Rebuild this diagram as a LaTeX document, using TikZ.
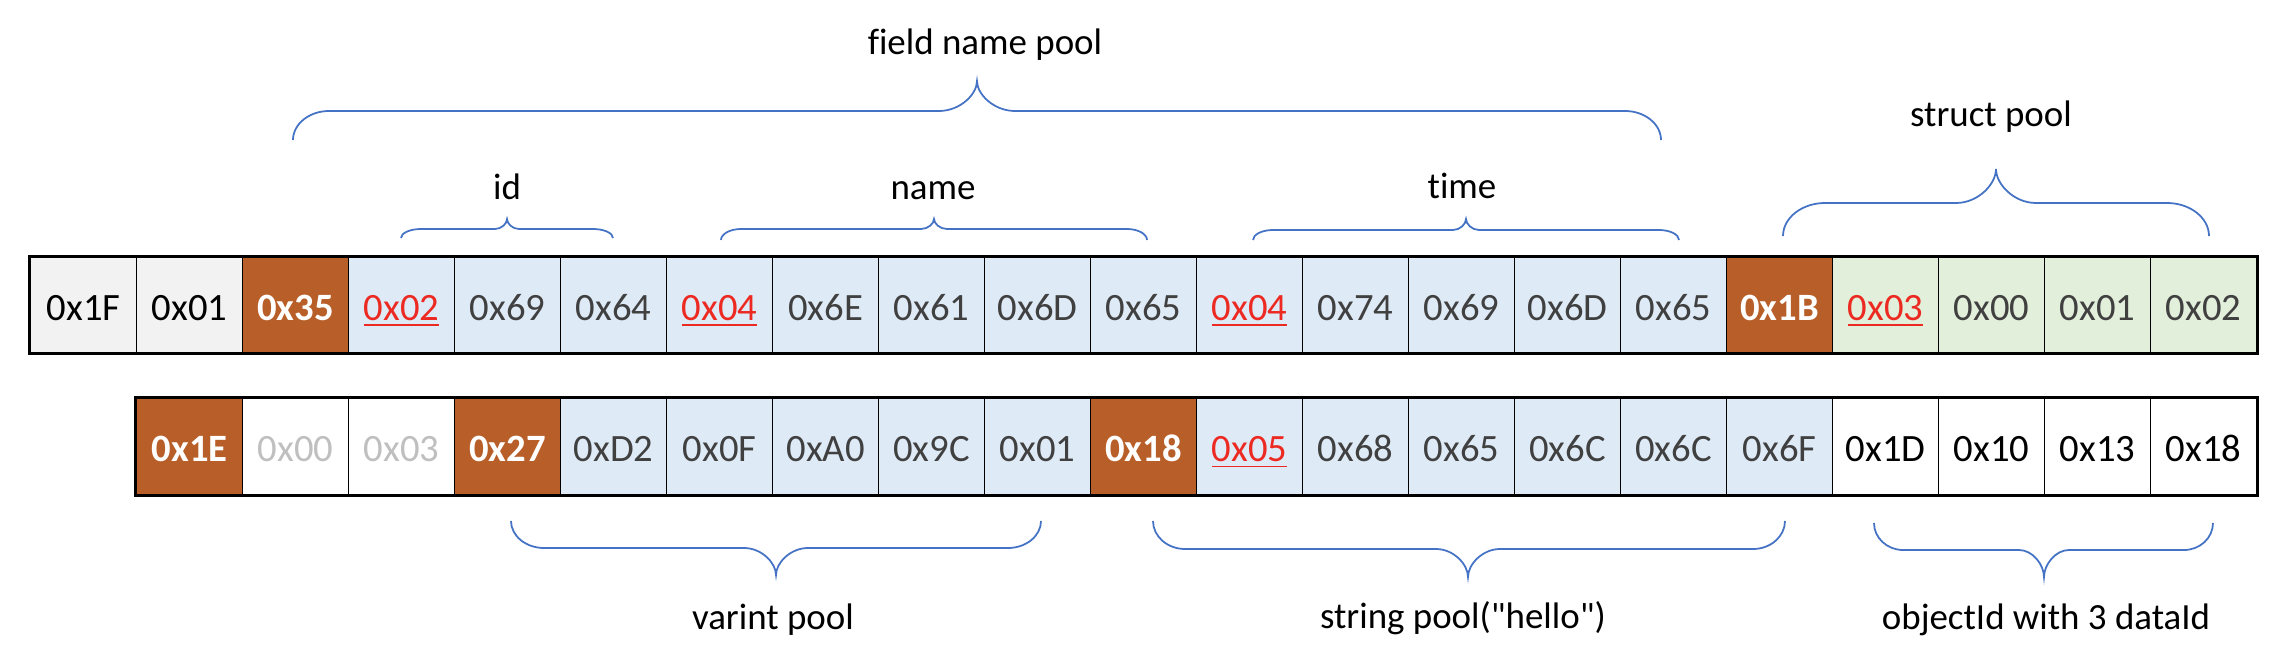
\documentclass[tikz,border=0pt]{standalone}
\usepackage{fontspec}
\setmainfont{Carlito}[Ligatures={TeXOff,NoCommon}]
\definecolor{cGray}{HTML}{F2F2F2}
\definecolor{cOrange}{HTML}{B85E28}
\definecolor{cBlue}{HTML}{DEEAF6}
\definecolor{cGreen}{HTML}{E2EFDA}
\definecolor{cRed}{HTML}{EC2A22}
\definecolor{cDark}{HTML}{404040}
\definecolor{cLight}{HTML}{BFBFBF}
\definecolor{cBrace}{HTML}{4472C4}
\tikzset{
 cell/.style={draw=black, line width=0.45pt, minimum width=1.06cm, minimum height=0.96cm,
   inner sep=0pt, text height=0.30cm, text depth=0cm, font=\fontsize{11}{13}\selectfont},
 gy/.style={cell, fill=cGray, text=black},
 ob/.style={cell, fill=cOrange, text=white, font=\fontsize{11}{13}\selectfont\bfseries},
 bl/.style={cell, fill=cBlue, text=cDark},
 blr/.style={cell, fill=cBlue, text=cRed},
 gr/.style={cell, fill=cGreen, text=cDark},
 grr/.style={cell, fill=cGreen, text=cRed},
 wk/.style={cell, fill=white, text=black},
 wl/.style={cell, fill=white, text=cLight},
 outer/.style={draw=black, line width=0.75pt},
 brace/.style={draw=cBrace, line width=0.5pt},
 lbl/.style={font=\fontsize{10.5}{12}\selectfont, anchor=base, inner sep=0pt, text=black}
}
% x1 x2 xtip yend yline ytip rend rtip
\newcommand\mybrace[8]{%
 \draw[brace] (#1,#4) .. controls (#1,{#4+0.55*(#5-#4)}) and ({#1+0.45*#7},#5) .. ({#1+#7},#5)
   -- ({#3-#8},#5) .. controls ({#3-0.45*#8},#5) and (#3,{#5+0.55*(#6-#5)}) .. (#3,#6)
   .. controls (#3,{#5+0.55*(#6-#5)}) and ({#3+0.45*#8},#5) .. ({#3+#8},#5)
   -- ({#2-#7},#5) .. controls ({#2-0.45*#7},#5) and (#2,{#4+0.55*(#5-#4)}) .. (#2,#4);}
\begin{document}
\begin{tikzpicture}[x=0.01cm,y=-0.01cm]
\useasboundingbox (0,0) rectangle (2284,664);
% row 1
\foreach \s/\t [count=\i from 0] in {gy/0x1F, gy/0x01, ob/0x35, blr/\underline{0x02}, bl/0x69, bl/0x64,
  blr/\underline{0x04}, bl/0x6E, bl/0x61, bl/0x6D, bl/0x65, blr/\underline{0x04}, bl/0x74, bl/0x69, bl/0x6D, bl/0x65,
  ob/0x1B, grr/\underline{0x03}, gr/0x00, gr/0x01, gr/0x02}
  \node[\s] (a\i) at ({83.6+106*\i},305) {\t};
\draw[outer] (a0.north west) rectangle (a20.south east);
% row 2
\foreach \s/\t [count=\i from 1] in {ob/0x1E, wl/0x00, wl/0x03, ob/0x27, bl/0xD2, bl/0x0F, bl/0xA0, bl/0x9C, bl/0x01,
  ob/0x18, blr/\underline{0x05}, bl/0x68, bl/0x65, bl/0x6C, bl/0x6C, bl/0x6F, wk/0x1D, wk/0x10, wk/0x13, wk/0x18}
  \node[\s] (b\i) at ({83.6+106*\i},446.5) {\t};
\draw[outer] (b1.north west) rectangle (b20.south east);
% braces
\mybrace{293}{1661}{977}{140}{111}{81}{36}{38}
\mybrace{1783}{2209}{1996}{236}{203}{169}{42}{40}
\mybrace{401}{613}{507}{238}{229}{219}{20}{12}
\mybrace{721}{1147}{934}{240}{229}{219}{20}{13}
\mybrace{1253}{1679}{1466}{240}{230}{219}{20}{13}
\mybrace{511}{1041}{776}{521}{548}{575}{33}{32}
\mybrace{1153}{1785}{1468}{521}{549}{577}{32}{32}
\mybrace{1874}{2213}{2044}{523}{550}{577}{29}{25}
% labels
\node[lbl] (lfield) at (985,55) {field name pool};
\node[lbl] (lid) at (507,200) {id};
\node[lbl] (lname) at (933,200) {name};
\node[lbl] (ltime) at (1462,199) {time};
\node[lbl] (lstruct) at (1991,127) {struct pool};
\node[lbl] (lvarint) at (773,629) {varint pool};
\node[lbl] (lstring) at (1463,628) {string pool("hello")};
\node[lbl] (lobj) at (2046,629) {objectId with 3 dataId};
\end{tikzpicture}
\end{document}
